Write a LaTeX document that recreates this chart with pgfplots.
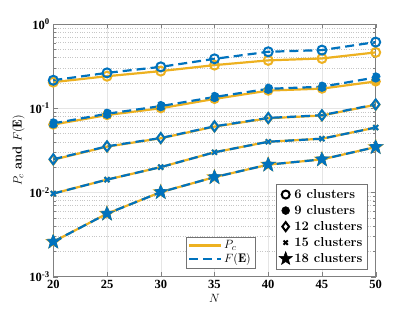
\documentclass[border=0pt]{standalone}
\usepackage{fontspec}
\usepackage{pgfplots}
\pgfplotsset{compat=1.18}
\newfontfamily\tnr{Liberation Serif}
\definecolor{myyel}{rgb}{0.929,0.694,0.125}
\definecolor{myblue}{rgb}{0,0.447,0.741}
\pgfdeclareplotmark{fstar}{%
  \pgfpathmoveto{\pgfqpointpolar{90}{\pgfplotmarksize}}%
  \pgfpathlineto{\pgfqpointpolar{126}{0.42\pgfplotmarksize}}%
  \pgfpathlineto{\pgfqpointpolar{162}{\pgfplotmarksize}}%
  \pgfpathlineto{\pgfqpointpolar{198}{0.42\pgfplotmarksize}}%
  \pgfpathlineto{\pgfqpointpolar{234}{\pgfplotmarksize}}%
  \pgfpathlineto{\pgfqpointpolar{270}{0.42\pgfplotmarksize}}%
  \pgfpathlineto{\pgfqpointpolar{306}{\pgfplotmarksize}}%
  \pgfpathlineto{\pgfqpointpolar{342}{0.42\pgfplotmarksize}}%
  \pgfpathlineto{\pgfqpointpolar{18}{\pgfplotmarksize}}%
  \pgfpathlineto{\pgfqpointpolar{54}{0.42\pgfplotmarksize}}%
  \pgfpathclose
  \pgfusepathqfillstroke}
\begin{document}
\begin{tikzpicture}[x=1pt,y=1pt]
\pgfplotsset{
 pcstyle/.style={myyel, line width=2.2pt, solid, mark options={solid, line width=2pt, fill=white}},
 festyle/.style={myblue, line width=2.2pt, dash pattern=on 9pt off 5pt, mark options={solid, line width=2pt, fill=white}},
}
\begin{axis}[name=main,
 scale only axis, width=322.4pt, height=252.7pt,
 xmin=20, xmax=50, ymode=log, ymin=1e-3, ymax=1,
 xtick={20,25,...,50},
 xticklabels={{\tnr\bfseries 20},{\tnr\bfseries 25},{\tnr\bfseries 30},{\tnr\bfseries 35},{\tnr\bfseries 40},{\tnr\bfseries 45},{\tnr\bfseries 50}},
 ytick={1e-3,1e-2,1e-1,1},
 yticklabels={{\tnr\bfseries 10\textsuperscript{-3}},{\tnr\bfseries 10\textsuperscript{-2}},{\tnr\bfseries 10\textsuperscript{-1}},{\tnr\bfseries 10\textsuperscript{0}}},
 grid=both, major grid style={gray!20, line width=0.5pt},
 minor y grid style={gray!45, dotted, line width=0.5pt},
 minor x tick num=0,
 axis line style={black!50, line width=0.7pt},
 tick style={black!50},
 ticklabel style={font=\fontsize{12.5}{14}\selectfont},
 xlabel={$N$}, ylabel={$P_c$ \textbf{and} $F(\mathbf{E})$},
 xlabel style={yshift=1pt}, ylabel style={yshift=-2pt},
 label style={font=\fontsize{13}{15}\selectfont},
]
% 6 clusters
\addplot[pcstyle, mark=o, mark size=4.5pt] coordinates {(20,0.204)(25,0.24)(30,0.276)(35,0.325)(40,0.37)(45,0.39)(50,0.46)};
\addplot[festyle, mark=o, mark size=4.5pt] coordinates {(20,0.215)(25,0.263)(30,0.31)(35,0.386)(40,0.468)(45,0.49)(50,0.61)};
% 9 clusters
\addplot[pcstyle, mark=*, mark size=4pt, mark options={fill=myyel}] coordinates {(20,0.064)(25,0.083)(30,0.10)(35,0.129)(40,0.162)(45,0.171)(50,0.208)};
\addplot[festyle, mark=*, mark size=4pt, mark options={fill=myblue}] coordinates {(20,0.066)(25,0.086)(30,0.106)(35,0.136)(40,0.17)(45,0.18)(50,0.232)};
% 12 clusters
\addplot[pcstyle, mark=diamond, mark size=5pt] coordinates {(20,0.0245)(25,0.0350)(30,0.0440)(35,0.0605)(40,0.0760)(45,0.0820)(50,0.110)};
\addplot[festyle, mark=diamond, mark size=5pt] coordinates {(20,0.0248)(25,0.0353)(30,0.0443)(35,0.061)(40,0.0767)(45,0.0826)(50,0.111)};
% 15 clusters
\addplot[pcstyle, mark=x, mark size=3.5pt] coordinates {(20,0.0097)(25,0.0142)(30,0.0200)(35,0.0300)(40,0.0400)(45,0.0435)(50,0.059)};
\addplot[festyle, mark=x, mark size=3.5pt] coordinates {(20,0.0097)(25,0.0142)(30,0.0200)(35,0.0300)(40,0.0400)(45,0.0435)(50,0.059)};
% 18 clusters
\addplot[pcstyle, mark=fstar, mark size=7.5pt, mark options={fill=myyel, line width=0.8pt}] coordinates {(20,0.0026)(25,0.0056)(30,0.0101)(35,0.0152)(40,0.0214)(45,0.0247)(50,0.0346)};
\addplot[festyle, mark=fstar, mark size=7.5pt, mark options={fill=myblue, line width=0.8pt}] coordinates {(20,0.0026)(25,0.0056)(30,0.0101)(35,0.0152)(40,0.0214)(45,0.0247)(50,0.0346)};
\end{axis}
% legend for line styles
\begin{axis}[scale only axis, width=322.4pt, height=252.7pt, hide axis,
 xmin=0, xmax=1, ymin=0, ymax=1,
 legend style={at={(0.6256,0.034)}, anchor=south east, draw=black!55, font=\fontsize{12.5}{14}\selectfont, inner sep=2pt, row sep=-1pt},
 legend cell align=left,
 legend image code/.code={\draw[#1] (0pt,0pt) -- (32pt,0pt);},
]
\addlegendimage{myyel, line width=2.2pt}
\addlegendentry{$P_c$}
\addlegendimage{myblue, line width=2.2pt, dash pattern=on 9pt off 5pt}
\addlegendentry{$F(\mathbf{E})$}
\end{axis}
% legend for markers
\begin{axis}[scale only axis, width=322.4pt, height=252.7pt, hide axis,
 xmin=0, xmax=1, ymin=0, ymax=1,
 legend style={at={(0.975,0.030)}, anchor=south east, draw=black!55, font=\fontsize{13}{15}\selectfont\bfseries, row sep=1.5pt, inner sep=3pt},
 legend cell align=left,
]
\addlegendimage{only marks, mark=o, black, line width=2pt, mark size=4pt}
\addlegendentry{6 clusters}
\addlegendimage{only marks, mark=*, black, mark size=4pt}
\addlegendentry{9 clusters}
\addlegendimage{only marks, mark=diamond, black, line width=2pt, mark size=4.5pt}
\addlegendentry{12 clusters}
\addlegendimage{only marks, mark=x, black, line width=2pt, mark size=3pt}
\addlegendentry{15 clusters}
\addlegendimage{only marks, mark=fstar, black, fill=black, line width=0.5pt, mark size=7pt}
\addlegendentry{18 clusters}
\end{axis}
\pgfresetboundingbox
\path (main.south west) ++(-53.3pt,-35.3pt) rectangle ++(415pt,312pt);
\end{tikzpicture}
\end{document}
